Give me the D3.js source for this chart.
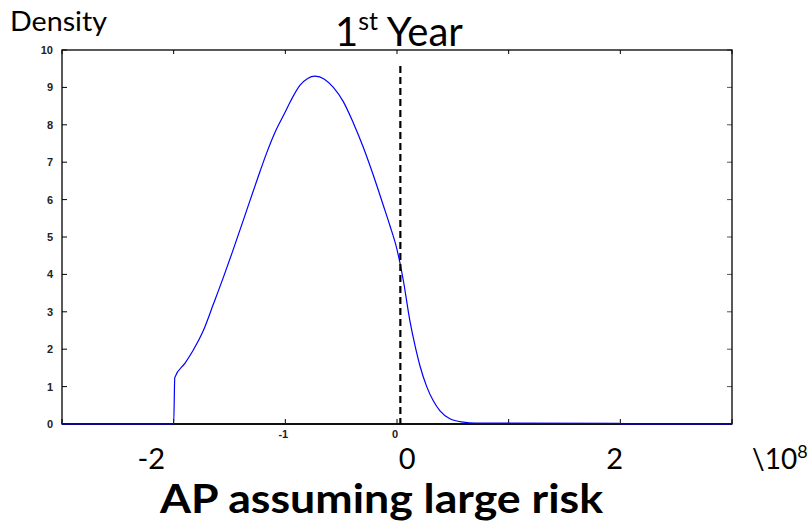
<!DOCTYPE html>
<html><head><meta charset="utf-8">
<script src="https://cdn.jsdelivr.net/npm/d3@7"></script>
<style>body{margin:0;background:#fff}svg{display:block}</style>
</head><body>
<script>
// Data (x in units of 1e8)
const xValues = [-3, -2.0, -1.99, -1.9, -1.824, -1.734, -1.645, -1.555, -1.48, -1.376, -1.316, -1.227, -1.167, -1.1, -1.0, -0.95, -0.868, -0.8, -0.734, -0.65, -0.57, -0.481, -0.391, -0.302, -0.212, -0.123, -0.063, -0.003, 0.027, 0.056, 0.116, 0.161, 0.206, 0.266, 0.325, 0.385, 0.474, 0.594, 0.7, 1.99, 2.0, 3];
const densityValues = [0, 0, 1.24, 1.62, 1.98, 2.5, 3.2, 3.92, 4.55, 5.45, 5.98, 6.75, 7.25, 7.75, 8.35, 8.65, 9.06, 9.24, 9.30, 9.22, 9.0, 8.62, 8.05, 7.4, 6.65, 5.85, 5.3, 4.7, 4.3, 3.85, 2.75, 2.1, 1.55, 1.0, 0.62, 0.35, 0.14, 0.05, 0.025, 0.02, 0, 0];
const yTicks = [0,1,2,3,4,5,6,7,8,9,10];
const xTicks = [-3,-2,-1,0,1,2,3];
const xSmallLabels = [-1, 0];
const xBigLabels = ["-2", "0", "2"];
const xBigLabelPos = [-2.2, 0.09, 1.95];
const dashedX = 0.03;
const titleMain = "1", titleSup = "st", titleRest = " Year";
const yLabel = "Density";
const xLabel = "AP assuming large risk";
const exponentLabel = "\\10", exponentSup = "8";

const W = 811, H = 523;
const svg = d3.select("body").append("svg").attr("width", W).attr("height", H);
const x = d3.scaleLinear().domain([-3, 3]).range([62, 732]);
const y = d3.scaleLinear().domain([0, 10]).range([424, 50]);

// Box ticks (inward)
const g = svg.append("g");
g.selectAll(".ytl").data(yTicks).join("line")
  .attr("x1", x(-3)).attr("x2", x(-3) + 5).attr("y1", d => y(d)).attr("y2", d => y(d))
  .attr("stroke", "#000").attr("stroke-width", 1);
g.selectAll(".ytr").data(yTicks).join("line")
  .attr("x1", x(3)).attr("x2", x(3) - 5).attr("y1", d => y(d)).attr("y2", d => y(d))
  .attr("stroke", "#555").attr("stroke-width", 1);
g.selectAll(".xtb").data(xTicks).join("line")
  .attr("x1", d => x(d)).attr("x2", d => x(d)).attr("y1", y(0)).attr("y2", y(0) - 5)
  .attr("stroke", "#000").attr("stroke-width", 1);
g.selectAll(".xtt").data(xTicks).join("line")
  .attr("x1", d => x(d)).attr("x2", d => x(d)).attr("y1", y(10)).attr("y2", y(10) + 4)
  .attr("stroke", "#000").attr("stroke-width", 1);

// Box
g.append("rect").attr("x", x(-3)).attr("y", y(10)).attr("width", x(3) - x(-3)).attr("height", y(0) - y(10))
  .attr("fill", "none").attr("stroke", "#000").attr("stroke-width", 1.3);
g.append("line").attr("x1", x(-3)).attr("x2", x(3)).attr("y1", y(0)).attr("y2", y(0))
  .attr("stroke", "#111").attr("stroke-width", 2);

// Y tick labels
svg.selectAll(".ylab").data(yTicks).join("text")
  .attr("x", 53).attr("y", d => y(d) + 4)
  .attr("text-anchor", "end").attr("font-family", "Liberation Sans, Arial, sans-serif")
  .attr("font-weight", "bold").attr("font-size", 11).attr("fill", "#222")
  .text(d => d);

// small x tick labels
svg.selectAll(".xlab").data(xSmallLabels).join("text")
  .attr("x", d => x(d) - 2).attr("y", 438)
  .attr("text-anchor", "middle").attr("font-family", "Liberation Sans, Arial, sans-serif")
  .attr("font-weight", "bold").attr("font-size", 11).attr("fill", "#222")
  .text(d => d);

// density line
const line = d3.line().x((d, i) => x(xValues[i])).y(d => y(d)).curve(d3.curveMonotoneX);
svg.append("path").datum(densityValues).attr("d", line)
  .attr("fill", "none").attr("stroke", "#0000ff").attr("stroke-width", 1.2);

// dashed line
svg.append("line").attr("x1", x(dashedX)).attr("x2", x(dashedX)).attr("y1", 66).attr("y2", y(0))
  .attr("stroke", "#000").attr("stroke-width", 2.2).attr("stroke-dasharray", "7,4");

const font = "Lato, 'Open Sans', sans-serif";
// Big x labels
svg.selectAll(".big").data(xBigLabels).join("text")
  .attr("x", (d, i) => x(xBigLabelPos[i])).attr("y", 469)
  .attr("text-anchor", "middle").attr("font-family", font).attr("font-size", 29).attr("fill", "#000")
  .text(d => d);
const ex = svg.append("text").attr("x", 752).attr("y", 469).attr("font-family", font).attr("font-size", 28);
ex.append("tspan").text(exponentLabel);
ex.append("tspan").attr("dy", -11).attr("font-size", 18).text(exponentSup);

// Title
const t = svg.append("text").attr("x", 335).attr("y", 46).attr("font-family", font).attr("font-size", 40);
t.append("tspan").text(titleMain);
t.append("tspan").attr("dy", -16).attr("font-size", 25).text(titleSup);
t.append("tspan").attr("dy", 16).text(titleRest);

// Density label
svg.append("text").attr("x", 10).attr("y", 31).attr("font-family", font).attr("font-size", 26)
  .attr("textLength", 97).attr("lengthAdjust", "spacingAndGlyphs").text(yLabel);

// X label
svg.append("text").attr("x", 160).attr("y", 513).attr("font-family", font).attr("font-weight", "bold")
  .attr("font-size", 40).attr("textLength", 443).attr("lengthAdjust", "spacingAndGlyphs").text(xLabel);
</script>
</body></html>
